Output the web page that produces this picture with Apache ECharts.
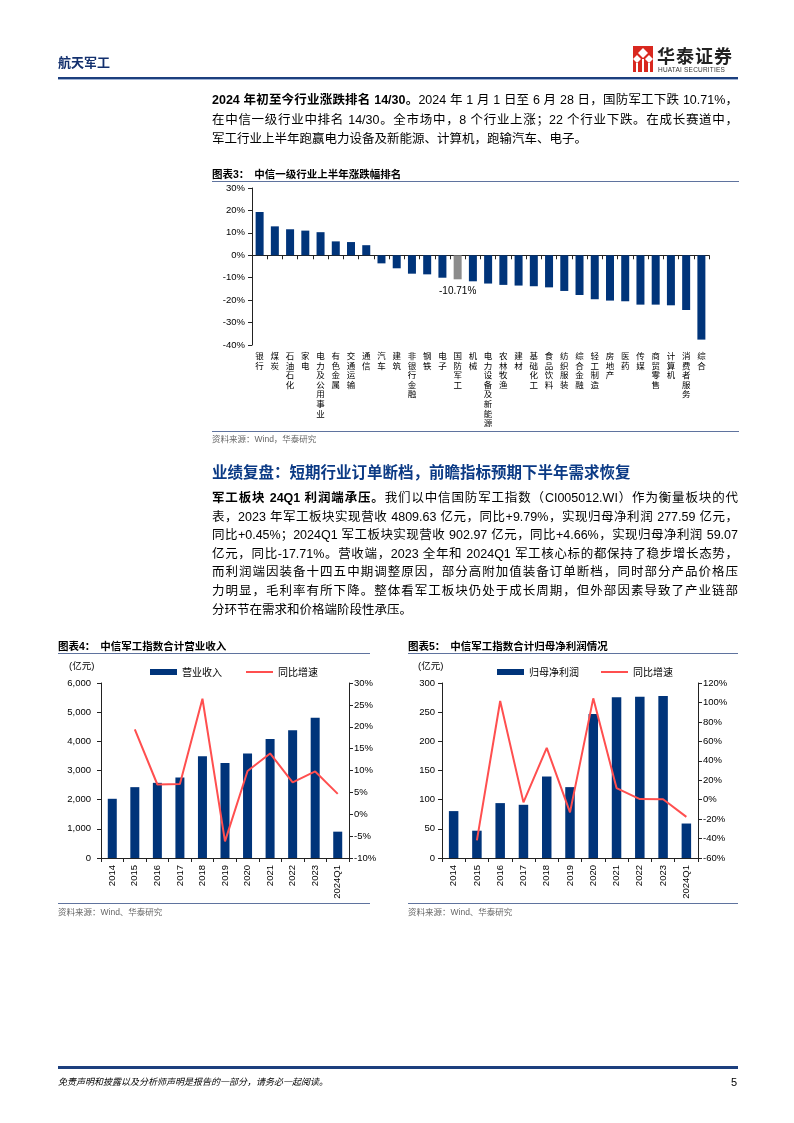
<!DOCTYPE html>
<html><head><meta charset="utf-8">
<script src="https://cdn.jsdelivr.net/npm/echarts@6/dist/echarts.min.js"></script>
<style>
body{margin:0;background:#fff;}
#page{position:relative;width:794px;height:1123px;overflow:hidden;font-family:"Liberation Sans","Noto Sans CJK SC",sans-serif;color:#000;background:#fff;}
#chart{position:absolute;left:0;top:0;width:794px;height:1123px;}
.abs{position:absolute;white-space:nowrap;}
.ln{position:absolute;left:212px;width:526px;font-size:12.5px;white-space:nowrap;text-align:justify;text-align-last:justify;}
.ln.last{text-align:left;text-align-last:left;}
.ttl{position:absolute;font-size:10.5px;font-weight:bold;height:13px;line-height:13px;white-space:nowrap;}
.rule{position:absolute;height:1px;background:#5f739e;}
.src{position:absolute;font-size:8.5px;color:#666;height:11px;line-height:11px;white-space:nowrap;}
.unit{position:absolute;font-size:9.5px;height:12px;line-height:12px;white-space:nowrap;}
</style></head>
<body>
<div id="page">
<div id="chart"></div>

<!-- header -->
<div class="abs" style="left:58px;top:55px;font-size:13px;font-weight:bold;color:#13306e;line-height:16px;">航天军工</div>
<svg class="abs" style="left:633px;top:46px;" width="20" height="26" viewBox="0 0 20 26">
  <rect x="0" y="0" width="20" height="26" fill="#d9281f"/>
  <polygon points="10,2 15,7 10,12 5,7" fill="#fff"/>
  <polygon points="4,9 8,13 4,17 0,13" fill="#fff"/>
  <polygon points="16,9 20,13 16,17 12,13" fill="#fff"/>
  <rect x="3" y="17" width="2" height="9" fill="#fff"/>
  <rect x="9" y="13" width="2" height="13" fill="#fff"/>
  <rect x="15" y="17" width="2" height="9" fill="#fff"/>
</svg>
<div class="abs" style="left:657px;top:46px;font-size:18px;font-weight:bold;color:#222;line-height:22px;letter-spacing:1px;">华泰证券</div>
<div class="abs" style="left:658px;top:66px;font-size:6.5px;color:#333;line-height:8px;letter-spacing:0.2px;">HUATAI SECURITIES</div>
<div class="abs" style="left:58px;top:77px;width:680px;height:2px;background:#1c3f7e;"></div>
<div class="abs" style="left:58px;top:79px;width:680px;height:1px;background:#9fb2d4;"></div>

<!-- paragraph 1 -->
<div class="ln" style="top:91px;line-height:19.5px;"><b>2024 年初至今行业涨跌排名 14/30。</b>2024 年 1 月 1 日至 6 月 28 日，国防军工下跌 10.71%，</div>
<div class="ln" style="top:110.5px;line-height:19.5px;">在中信一级行业中排名 14/30。全市场中，8 个行业上涨；22 个行业下跌。在成长赛道中，</div>
<div class="ln last" style="top:130px;line-height:19.5px;">军工行业上半年跑赢电力设备及新能源、计算机，跑输汽车、电子。</div>

<!-- chart 3 frame -->
<div class="ttl" style="left:212px;top:167.5px;">图表3：<span style="margin-left:5px;">中信一级行业上半年涨跌幅排名</span></div>
<div class="rule" style="left:212px;top:181px;width:527px;"></div>
<div class="rule" style="left:212px;top:431px;width:527px;"></div>
<div class="src" style="left:212px;top:433.5px;">资料来源：Wind，华泰研究</div>

<!-- section heading -->
<div class="abs" style="left:212px;top:463px;font-size:15.5px;font-weight:bold;color:#0b3a85;line-height:19px;">业绩复盘：短期行业订单断档，前瞻指标预期下半年需求恢复</div>

<!-- paragraph 2 -->
<div class="ln" style="top:489px;line-height:18.6px;"><b>军工板块 24Q1 利润端承压。</b>我们以中信国防军工指数（CI005012.WI）作为衡量板块的代</div>
<div class="ln" style="top:507.6px;line-height:18.6px;">表，2023 年军工板块实现营收 4809.63 亿元，同比+9.79%，实现归母净利润 277.59 亿元，</div>
<div class="ln" style="top:526.2px;line-height:18.6px;">同比+0.45%；2024Q1 军工板块实现营收 902.97 亿元，同比+4.66%，实现归母净利润 59.07</div>
<div class="ln" style="top:544.8px;line-height:18.6px;">亿元，同比-17.71%。营收端，2023 全年和 2024Q1 军工核心标的都保持了稳步增长态势，</div>
<div class="ln" style="top:563.4px;line-height:18.6px;">而利润端因装备十四五中期调整原因，部分高附加值装备订单断档，同时部分产品价格压</div>
<div class="ln" style="top:582px;line-height:18.6px;">力明显，毛利率有所下降。整体看军工板块仍处于成长周期，但外部因素导致了产业链部</div>
<div class="ln last" style="top:600.6px;line-height:18.6px;">分环节在需求和价格端阶段性承压。</div>

<!-- chart 4 frame -->
<div class="ttl" style="left:58px;top:640px;">图表4：<span style="margin-left:5px;">中信军工指数合计营业收入</span></div>
<div class="rule" style="left:58px;top:653px;width:312px;"></div>
<div class="unit" style="left:69px;top:660px;">(亿元)</div>
<div class="rule" style="left:58px;top:903px;width:312px;"></div>
<div class="src" style="left:58px;top:907px;">资料来源：Wind、华泰研究</div>

<!-- chart 5 frame -->
<div class="ttl" style="left:408px;top:640px;">图表5：<span style="margin-left:5px;">中信军工指数合计归母净利润情况</span></div>
<div class="rule" style="left:408px;top:653px;width:330px;"></div>
<div class="unit" style="left:418px;top:660px;">(亿元)</div>
<div class="rule" style="left:408px;top:903px;width:330px;"></div>
<div class="src" style="left:408px;top:907px;">资料来源：Wind、华泰研究</div>

<!-- footer -->
<div class="abs" style="left:58px;top:1066px;width:680px;height:3px;background:#1c3f7e;"></div>
<div class="abs" style="left:58px;top:1076px;font-size:9px;font-style:italic;line-height:12px;">免责声明和披露以及分析师声明是报告的一部分，请务必一起阅读。</div>
<div class="abs" style="left:731px;top:1075px;font-size:11px;line-height:14px;">5</div>
</div>

<script>
// ---------- data ----------
const industries = ['银行','煤炭','石油石化','家电','电力及公用事业','有色金属','交通运输','通信','汽车','建筑','非银行金融','钢铁','电子','国防军工','机械','电力设备及新能源','农林牧渔','建材','基础化工','食品饮料','纺织服装','综合金融','轻工制造','房地产','医药','传媒','商贸零售','计算机','消费者服务','综合'];
const industryChange = [19.3,12.9,11.6,11.0,10.3,6.2,5.9,4.5,-3.6,-5.8,-8.2,-8.5,-10.0,-10.71,-11.6,-12.6,-13.2,-13.5,-13.8,-14.3,-15.9,-17.7,-19.6,-20.2,-20.5,-22.0,-22.0,-22.3,-24.4,-37.6];
const highlightIndustry = '国防军工';

const years = ['2014','2015','2016','2017','2018','2019','2020','2021','2022','2023','2024Q1'];
const revenue = [2030,2429,2577,2760,3489,3261,3584,4082,4381,4810,903];
const revenueYoY = [null,19.4,6.8,6.9,26.4,-6.2,9.9,13.9,7.3,9.79,4.66];
const netProfit = [80.4,46.8,94.1,91.2,139.7,121.5,247.0,275.5,276.4,277.6,59.1];
const netProfitYoY = [null,-41.8,101.5,-2.8,53.3,-13.1,104.2,11.9,0.6,0.45,-17.71];

// ---------- styles ----------
const NAVY = '#00347a', GRAY = '#8c8c8c', RED = '#ff4f4f', AX = '#222';
const numFont = {fontFamily:'Liberation Sans', fontSize:9.5, color:'#000'};
const cjkFont = {fontFamily:'Noto Sans CJK SC', fontSize:9.5, color:'#000'};
const axLine = {show:true, lineStyle:{color:AX, width:1}};
const tick = {show:true, length:4, lineStyle:{color:AX}};
const LINE_ICON = 'path://M0,0H27V2H0Z';

const chart = echarts.init(document.getElementById('chart'), null, {renderer:'canvas'});
chart.setOption({
  animation:false,
  grid:[
    {left:252, top:188, width:457, height:157, containLabel:false, outerBoundsMode:'none'},
    {left:101, top:683, width:248, height:175, containLabel:false, outerBoundsMode:'none'},
    {left:442, top:683, width:256, height:175, containLabel:false, outerBoundsMode:'none'}
  ],
  legend:[
    {left:150, top:667, itemWidth:27, itemHeight:6, itemGap:24, padding:0,
     textStyle:{...cjkFont, fontSize:10}, data:[{name:'营业收入', icon:'rect'}, {name:'同比增速', icon:LINE_ICON}]},
    {left:497, top:667, itemWidth:27, itemHeight:6, itemGap:22, padding:0,
     textStyle:{...cjkFont, fontSize:10}, data:[{name:'归母净利润', icon:'rect'}, {name:'同比增速', icon:LINE_ICON}]}
  ],
  xAxis:[
    {type:'category', gridIndex:0, data:industries, axisLine:{...axLine, onZero:true}, axisTick:{...tick, interval:0}, axisLabel:{show:false}},
    {type:'category', gridIndex:0, data:industries, position:'bottom', axisLine:{show:false, onZero:false}, axisTick:{show:false},
     axisLabel:{interval:0, margin:6, ...cjkFont, fontSize:8.5, lineHeight:9.6, verticalAlign:'top', formatter:v=>v.split('').join('\n')}},
    {type:'category', gridIndex:1, data:years, axisLine:axLine, axisTick:{...tick, interval:0},
     axisLabel:{interval:0, rotate:90, margin:7, ...numFont}},
    {type:'category', gridIndex:2, data:years, axisLine:axLine, axisTick:{...tick, interval:0},
     axisLabel:{interval:0, rotate:90, margin:7, ...numFont}}
  ],
  yAxis:[
    {type:'value', gridIndex:0, min:-40, max:30, interval:10, axisLine:axLine, axisTick:tick, splitLine:{show:false},
     axisLabel:{...numFont, margin:7, formatter:'{value}%'}},
    {type:'value', gridIndex:1, min:0, max:6000, interval:1000, axisLine:axLine, axisTick:tick, splitLine:{show:false},
     axisLabel:{...numFont, margin:10, formatter:v=>v.toLocaleString('en-US')}},
    {type:'value', gridIndex:1, position:'right', min:-10, max:30, interval:5, axisLine:axLine, axisTick:tick, splitLine:{show:false},
     axisLabel:{...numFont, margin:5, formatter:'{value}%'}},
    {type:'value', gridIndex:2, min:0, max:300, interval:50, axisLine:axLine, axisTick:tick, splitLine:{show:false},
     axisLabel:{...numFont, margin:7, formatter:'{value}'}},
    {type:'value', gridIndex:2, position:'right', min:-60, max:120, interval:20, axisLine:axLine, axisTick:tick, splitLine:{show:false},
     axisLabel:{...numFont, margin:5, formatter:'{value}%'}}
  ],
  series:[
    {type:'bar', name:'涨跌幅', xAxisIndex:0, yAxisIndex:0, barWidth:8,
     data: industryChange.map((v,i)=> industries[i]===highlightIndustry
        ? {value:v, itemStyle:{color:GRAY}, label:{show:true, position:'bottom', distance:7, formatter:'{c}%', ...numFont, fontSize:10}}
        : {value:v}),
     itemStyle:{color:NAVY}},
    {type:'bar', name:'营业收入', xAxisIndex:2, yAxisIndex:1, barWidth:9, itemStyle:{color:NAVY}, data:revenue},
    {type:'line', name:'同比增速', xAxisIndex:2, yAxisIndex:2, symbol:'none', lineStyle:{color:RED, width:2}, itemStyle:{color:RED}, data:revenueYoY},
    {type:'bar', name:'归母净利润', xAxisIndex:3, yAxisIndex:3, barWidth:9.5, itemStyle:{color:NAVY}, data:netProfit},
    {type:'line', name:'同比增速', xAxisIndex:3, yAxisIndex:4, symbol:'none', lineStyle:{color:RED, width:2}, itemStyle:{color:RED}, data:netProfitYoY}
  ]
});
</script>
</body></html>
